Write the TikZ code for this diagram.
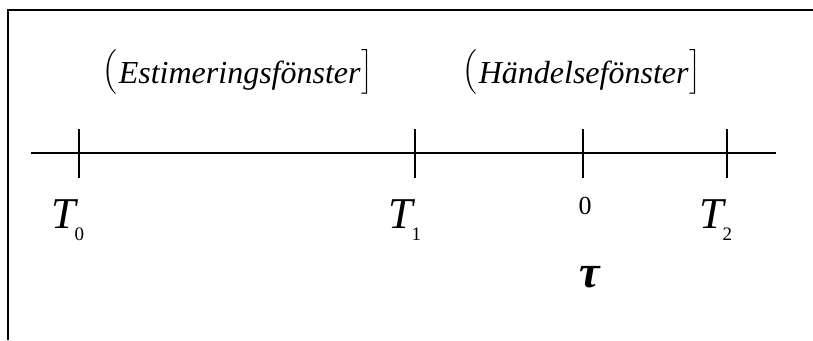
\documentclass[tikz,border=0pt]{standalone}
\usepackage{amsmath}
\usepackage{fontspec}
\setmainfont{Liberation Serif}
\usetikzlibrary{positioning}
\newcommand{\fonsterparen}[2]{\raisebox{5pt}{$\left(\vrule height 30.5pt depth 14.5pt width 0pt\right.$}\textit{#1}\raisebox{5pt}{$\left.\vrule height 30.5pt depth 14.5pt width 0pt\right#2$}}

\begin{document}
\begin{tikzpicture}[x=1pt, y=-1pt, line width=1.5pt,
    tid/.style={inner sep=0pt, anchor=base west, font=\fontsize{44}{44}\selectfont\itshape},
    index/.style={inner sep=0pt, anchor=base west, font=\fontsize{19}{19}\selectfont},
    fonster/.style={inner sep=0pt, anchor=base west, font=\fontsize{32}{32}\selectfont}]
            \useasboundingbox (0,0) rectangle (813,340);
            % Ram
            \draw (8,340) -- (8,10) -- (813,10);

            % Tidsaxel
            \coordinate (start) at (31,153);
            \coordinate (slut) at (776,153);
            \draw[line width=1.8pt] (start) -- (slut);
            \foreach \namn/\xx in {t0/79, t1/415, tau/583, t2/727}{
                \coordinate (\namn) at (\xx,153);
                \draw[line width=1.6pt] (\xx,129) -- (\xx,178);
            }

            % Fönster
            \node[fonster] (est) at (102,83) {\fonsterparen{Estimeringsfönster}{]}};
            \node[fonster] (hand) at (462,83) {\fonsterparen{Händelsefönster}{]}};

            % Etiketter
            \node[tid] (T0) at (51,228) {T};
            \node[index] (i0) at ([xshift=-3pt, yshift=-12pt]T0.base east) {0};
            \node[tid] (T1) at (388,228) {T};
            \node[index] (i1) at ([xshift=-3pt, yshift=-12pt]T1.base east) {1};
            \node[tid] (T2) at (699,228) {T};
            \node[index] (i2) at ([xshift=-3pt, yshift=-12pt]T2.base east) {2};
            \node[inner sep=0pt, anchor=base, font=\fontsize{26}{26}\selectfont] (noll) at (585,214) {0};
            \node[inner sep=0pt, anchor=base, font=\fontsize{46}{46}\selectfont\bfseries\itshape] (tautxt) at (590,287) {τ};
        \end{tikzpicture}
\end{document}
